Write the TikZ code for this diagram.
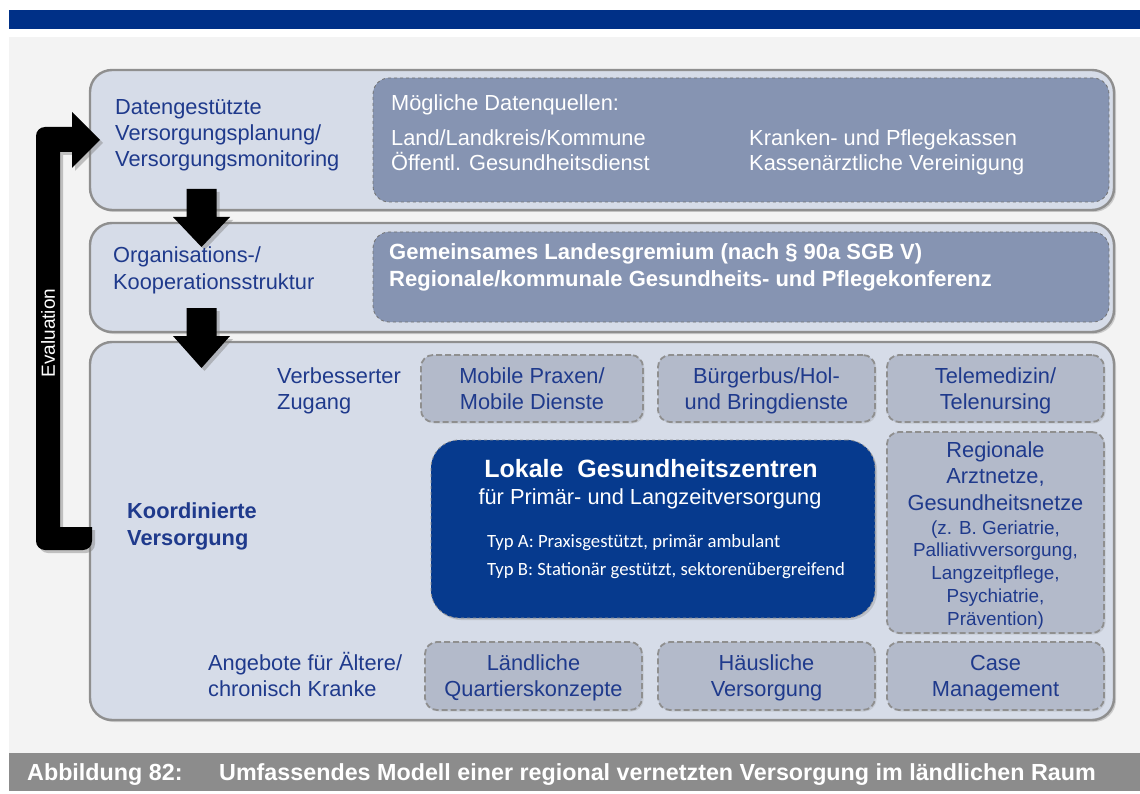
\documentclass[tikz,border=0pt]{standalone}
\usepackage{fontspec}
\setmainfont{Liberation Sans}
\newfontfamily\calibrifont{Carlito}
\usetikzlibrary{shadows}

\definecolor{barblue}{HTML}{003087}
\definecolor{lgzblue}{HTML}{063A8E}
\definecolor{txtblue}{HTML}{1F3A8C}
\definecolor{layerfill}{HTML}{D6DCE8}
\definecolor{slatefill}{HTML}{8694B2}
\definecolor{offerfill}{HTML}{B3BACA}
\definecolor{framegray}{HTML}{8F8F8F}
\definecolor{capgray}{HTML}{8C8C8C}
\definecolor{bggray}{HTML}{F3F3F3}

\tikzset{
  layer/.style={draw=framegray, line width=2.4pt, fill=layerfill, rounded corners=22pt, inner sep=0pt,
    drop shadow={shadow xshift=2pt, shadow yshift=-2pt, opacity=0.35}},
  source/.style={draw=framegray!80!black, dashed, line width=0.8pt, fill=slatefill, rounded corners=16pt, inner sep=0pt},
  offer/.style={draw=framegray, dash pattern=on 6pt off 3pt, line width=1.8pt, fill=offerfill, rounded corners=12pt, inner sep=0pt,
    drop shadow={shadow xshift=1.5pt, shadow yshift=-1.5pt, opacity=0.2}},
  lgzbox/.style={draw=framegray, dashed, line width=0.8pt, fill=lgzblue, rounded corners=28pt, inner sep=0pt,
    drop shadow={shadow xshift=2pt, shadow yshift=-2pt, opacity=0.3}},
  blockarrow/.style={fill=black, drop shadow={shadow xshift=3pt, shadow yshift=-3pt, opacity=0.45}},
  txt/.style={inner sep=0pt, text=txtblue, font=\fontsize{21.8}{26.5}\selectfont},
  wtxt/.style={txt, text=white}
}

\begin{document}
\begin{tikzpicture}[x=1pt, y=-1pt]
  \useasboundingbox (0,0) rectangle (1140,794);
  % page background
  \fill[white] (0,0) rectangle (1140,794);
  \fill[barblue] (9,10) rectangle (1140,29);
  \fill[bggray] (9,37) rectangle (1140,753);

  % three layers
  \node[layer, minimum width=1024, minimum height=140] (plan) at (602,140) {};
  \node[source, minimum width=736, minimum height=124] (sources) at (741,140) {};
  \node[layer, minimum width=1024, minimum height=109] (org) at (602,277.5) {};
  \node[source, minimum width=736, minimum height=90] (gremium) at (741,277) {};
  \node[layer, minimum width=1024, minimum height=378] (care) at (602,531) {};

  % offers inside the care layer
  \node[offer, minimum width=222, minimum height=67] (mobil) at (532,388.5) {};
  \node[offer, minimum width=217, minimum height=67] (bus) at (766.5,388.5) {};
  \node[offer, minimum width=217, minimum height=67] (tele) at (995.5,388.5) {};
  \node[lgzbox, minimum width=444, minimum height=178] (lgz) at (653,529) {};
  \node[offer, minimum width=217, minimum height=201] (netze) at (995.5,532.5) {};
  \node[offer, minimum width=217, minimum height=68] (quartier) at (533.5,676) {};
  \node[offer, minimum width=217, minimum height=68] (haus) at (766.5,676) {};
  \node[offer, minimum width=217, minimum height=68] (case) at (995.5,676) {};

  % evaluation loop
  \fill[blockarrow] (50,127) [rounded corners=9] -- (36,127) -- (36,550) -- (92,550) [sharp corners]
    -- (92,527) -- (60,527) -- (60,152) -- (72,152) -- (72,168) -- (100,140) -- (72,112) -- (72,127) -- cycle;
  \node[inner sep=0pt, rotate=90, text=white, font=\fontsize{19}{19}\selectfont] (eval) at (48,333) {Evaluation};

  % arrows between the layers
  \fill[blockarrow, shift={(201.5,189)}] (-15,0) -- (15,0) -- (15,28) -- (28.5,28) -- (0,58) -- (-28.5,28) -- (-15,28) -- cycle;
  \fill[blockarrow, shift={(201.5,308)}] (-15,0) -- (15,0) -- (15,28) -- (28.5,28) -- (0,60) -- (-28.5,28) -- (-15,28) -- cycle;

  % layer labels (multi-line nodes sit on their last line)
  \node[txt, anchor=base west, align=left, font=\fontsize{21.8}{26}\selectfont] (plan-l) at (115,167) {Datengestützte\\Versorgungsplanung/\\Versorgungsmonitoring};
  \node[txt, anchor=base west, align=left] (org-l) at (113,289.5) {Organisations-/\\Kooperationsstruktur};
  \node[txt, anchor=base west, align=left, font=\bfseries\fontsize{21.8}{27}\selectfont] (care-l) at (127,545) {Koordinierte\\Versorgung};
  \node[txt, anchor=base west, align=left] (zugang-l) at (277,409.5) {Verbesserter\\Zugang};
  \node[txt, anchor=base west, align=left] (alt-l) at (208,696.5) {Angebote für Ältere/\\chronisch Kranke};

  % data sources
  \node[wtxt, anchor=base west] (src-t) at (391,111) {Mögliche Datenquellen:};
  \node[wtxt, anchor=base west, align=left, font=\fontsize{21.8}{25}\selectfont] (src-a) at (391,171) {Land/Landkreis/Kommune\\Öffentl. Gesundheitsdienst};
  \node[wtxt, anchor=base west, align=left, font=\fontsize{21.8}{25}\selectfont] (src-b) at (749,171) {Kranken- und Pflegekassen\\Kassenärztliche Vereinigung};

  % committees
  \node[wtxt, anchor=base west, align=left, font=\bfseries\fontsize{22}{27}\selectfont] (grem-t) at (389,287) {Gemeinsames Landesgremium (nach § 90a SGB V)\\Regionale/kommunale Gesundheits- und Pflegekonferenz};

  % offer texts
  \node[txt, anchor=base, align=center] (mobil-t) at (532,409.5) {Mobile Praxen/\\Mobile Dienste};
  \node[txt, anchor=base, align=center] (bus-t) at (766.5,409.5) {Bürgerbus/Hol-\\und Bringdienste};
  \node[txt, anchor=base, align=center] (tele-t) at (995.5,409.5) {Telemedizin/\\Telenursing};
  \node[txt, anchor=base, align=center] (netze-t) at (995.5,510) {Regionale\\Arztnetze,\\Gesundheitsnetze};
  \node[txt, anchor=base, align=center, font=\fontsize{18.9}{22.7}\selectfont] (netze-s) at (995.5,625) {(z. B. Geriatrie,\\Palliativversorgung,\\Langzeitpflege,\\Psychiatrie,\\Prävention)};
  \node[txt, anchor=base, align=center] (quartier-t) at (533.5,696.5) {Ländliche\\Quartierskonzepte};
  \node[txt, anchor=base, align=center] (haus-t) at (766.5,696.5) {Häusliche\\Versorgung};
  \node[txt, anchor=base, align=center] (case-t) at (995.5,696.5) {Case\\Management};

  % health centres
  \node[wtxt, anchor=base, font=\bfseries\fontsize{25}{30}\selectfont] (lgz-t) at (651,477) {Lokale\ \ Gesundheitszentren};
  \node[wtxt, anchor=base] (lgz-s) at (650,504) {für Primär- und Langzeitversorgung};
  \node[wtxt, anchor=base west, align=left, font=\calibrifont\fontsize{18.7}{28}\selectfont] (lgz-typ) at (487,575) {Typ A: Praxisgestützt, primär ambulant\\Typ B: Stationär gestützt, sektorenübergreifend};

  % caption
  \fill[capgray] (9,753) rectangle (1140,791);
  \node[wtxt, anchor=base west, font=\bfseries\fontsize{23.3}{26}\selectfont] (cap-nr) at (27,780) {Abbildung 82:};
  \node[wtxt, anchor=base west, font=\bfseries\fontsize{23.3}{26}\selectfont] (cap-txt) at (219,780) {Umfassendes Modell einer regional vernetzten Versorgung im ländlichen Raum};
\end{tikzpicture}
\end{document}
